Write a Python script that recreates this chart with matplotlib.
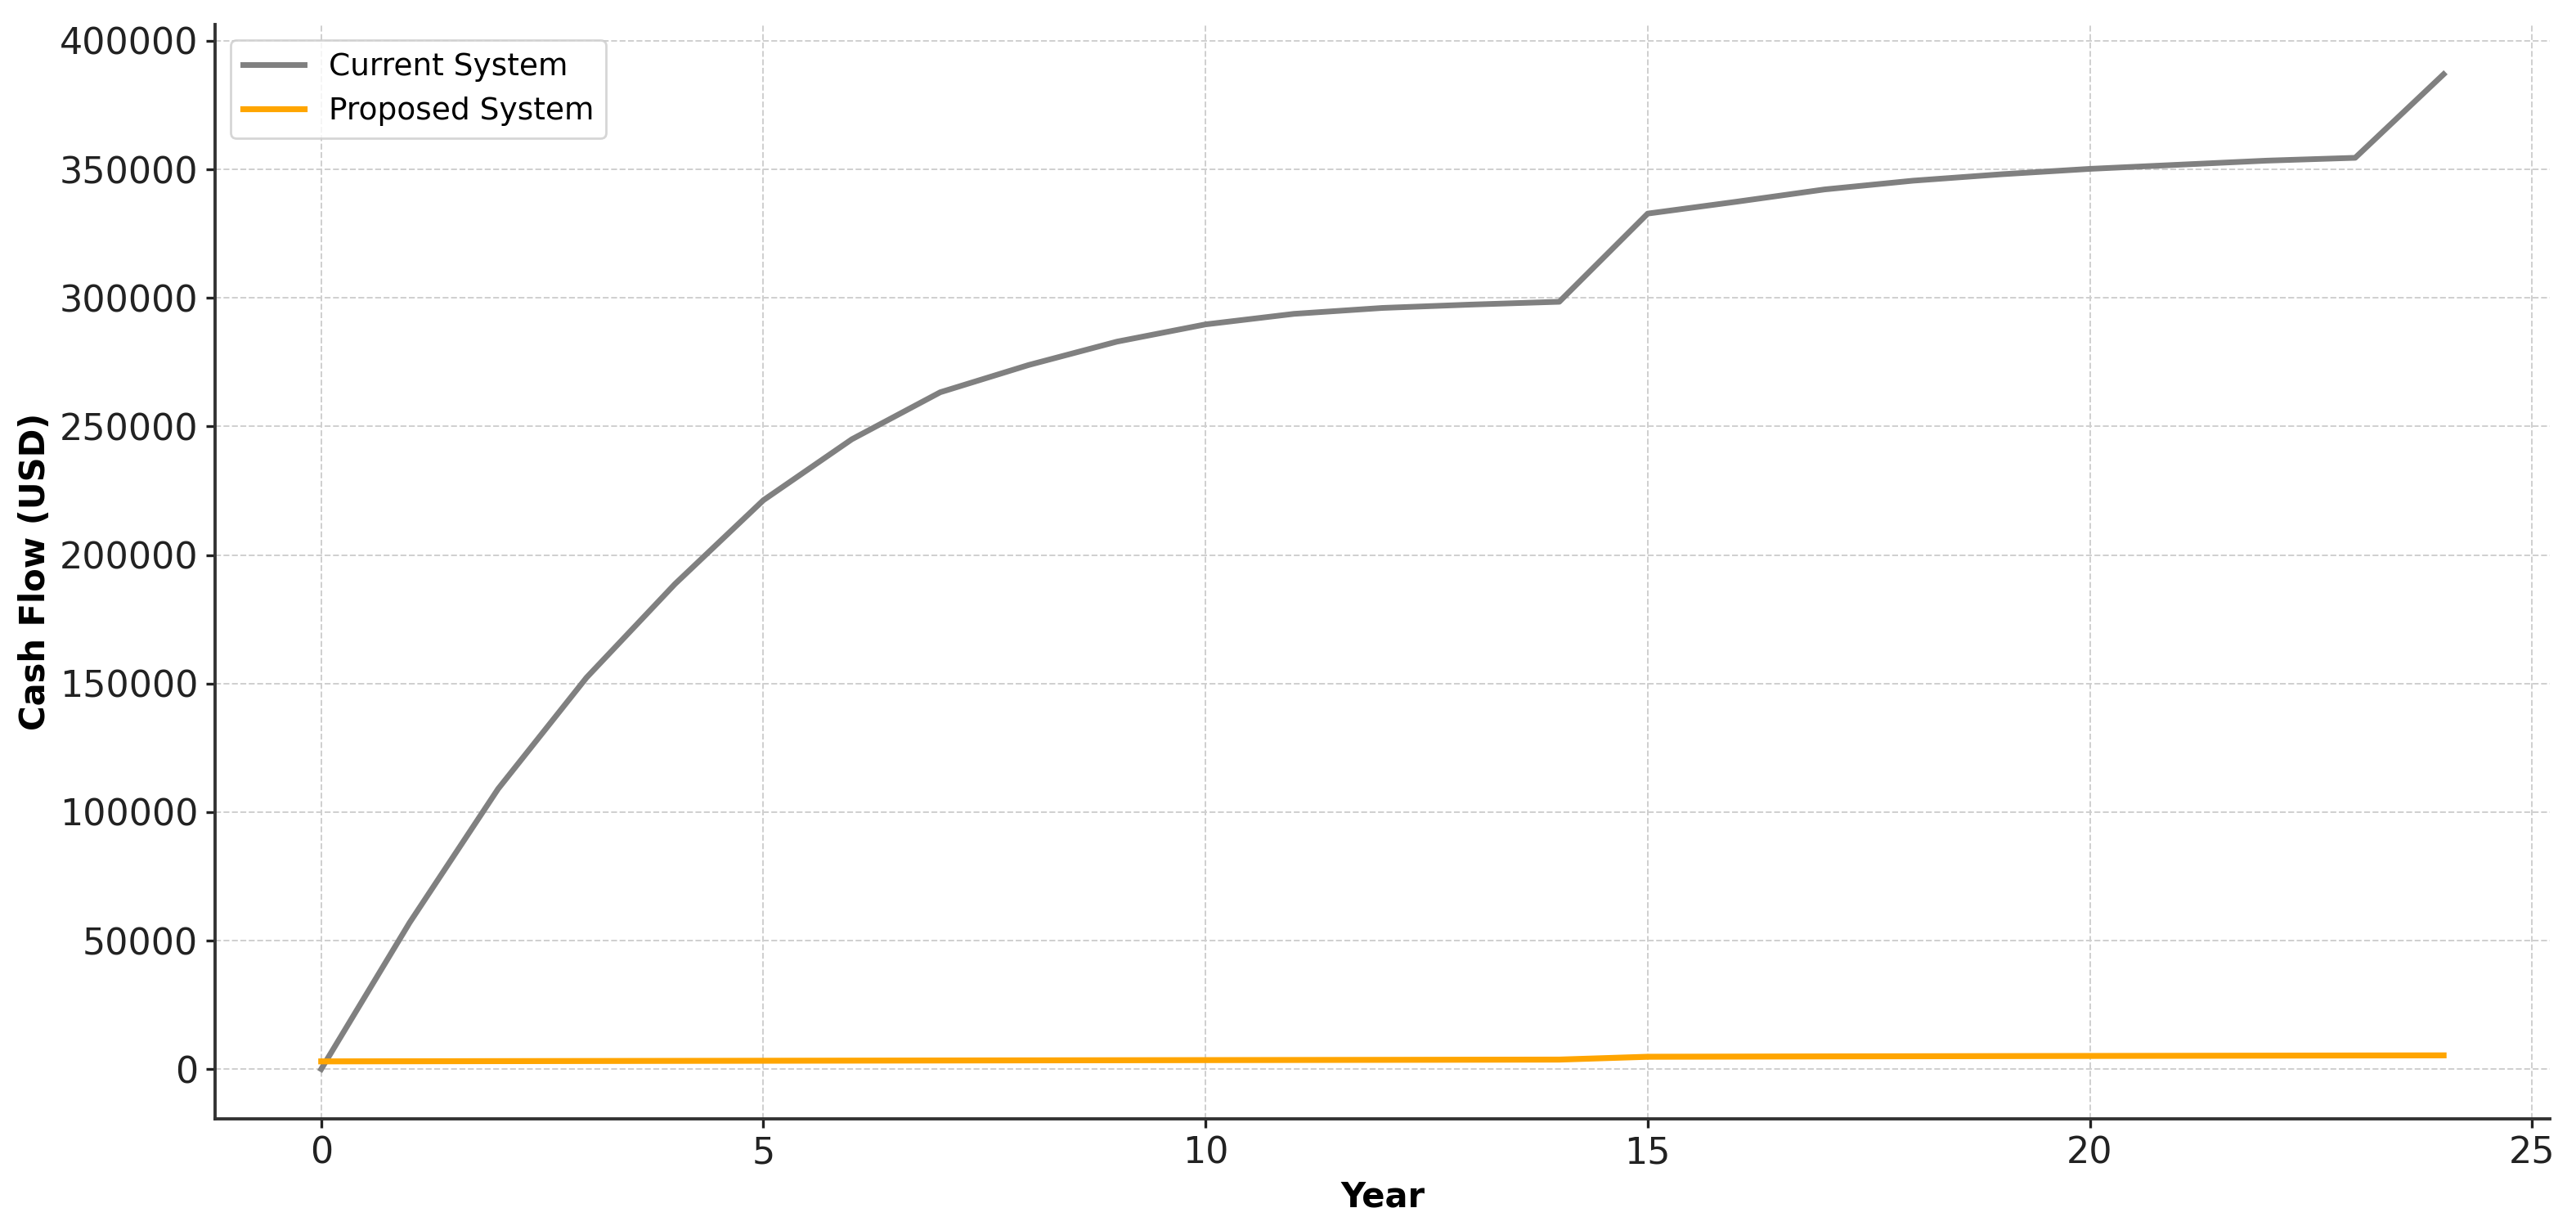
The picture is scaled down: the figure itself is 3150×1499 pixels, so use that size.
import numpy as np
import matplotlib
matplotlib.use("Agg")
import matplotlib.pyplot as plt

# cash flow over the project life
years = list(range(25))
current_system = [0, 57000, 109000, 152300, 188700, 221300, 245000, 263300,
                  273900, 283000, 289700, 293800, 296100, 297400, 298500,
                  332800, 337400, 342200, 345600, 348100, 350200, 351800,
                  353400, 354500, 387000]
proposed_system = [3000, 3050, 3100, 3150, 3200, 3250, 3300, 3350, 3400,
                   3450, 3500, 3550, 3600, 3650, 3700, 4800, 4870, 4940,
                   5000, 5060, 5120, 5180, 5240, 5300, 5350]

plt.rcParams['font.family'] = ['DejaVu Sans']

fig = plt.figure(figsize=(15.75, 7.495), dpi=200)
ax = fig.add_axes([0.0835, 0.0874, 0.9063, 0.8926])

ax.plot(years, current_system, color='gray', linewidth=2.5, label='Current System')
ax.plot(years, proposed_system, color='orange', linewidth=2.6, label='Proposed System')

ax.set_xlabel('Year', fontsize=15, fontweight='bold', labelpad=4)
ax.set_ylabel('Cash Flow (USD)', fontsize=15, fontweight='bold', labelpad=3)

ax.spines['top'].set_visible(False)
ax.spines['right'].set_visible(False)
for s in ['left', 'bottom']:
    ax.spines[s].set_color('#333333')
    ax.spines[s].set_linewidth(1.4)

ax.tick_params(axis='both', labelsize=16, colors='#222222', length=4, width=1.2)
ax.grid(True, linestyle='--', color='#cfcfcf', linewidth=0.7)

leg = ax.legend(loc='upper left', fontsize=13.5, frameon=True, fancybox=True)
leg.get_frame().set_edgecolor('#cccccc')

fig.savefig('out.png', dpi=200)
